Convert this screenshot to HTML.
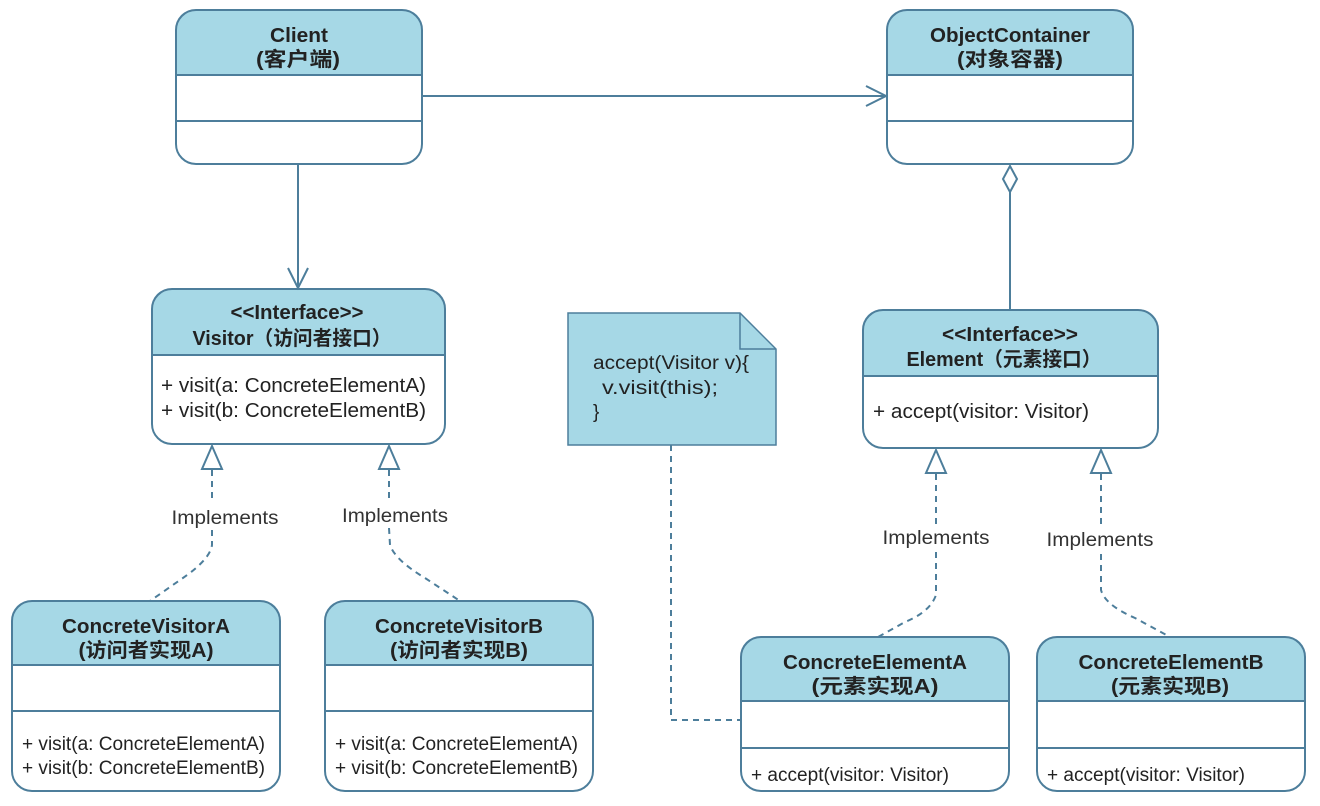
<!DOCTYPE html>
<html><head><meta charset="utf-8"><style>
body{margin:0;background:#fff}
svg text{font-family:"Liberation Sans","Noto Sans CJK SC",sans-serif;fill:#222}
.t{font-weight:bold;font-size:20px;text-anchor:middle}
.m{font-size:19px}
.b{font-size:20px}
.l{font-size:19px;text-anchor:middle;fill:#333}
</style></head><body>
<svg width="1320" height="801" viewBox="0 0 1320 801" xmlns="http://www.w3.org/2000/svg">
<defs><style>.s{stroke:#4d7e9b;stroke-width:2;fill:none}.h{fill:#a6d8e6}.d{stroke:#4d7e9b;stroke-width:2;fill:none;stroke-dasharray:6,5}</style></defs>

<!-- Client -->
<rect x="176" y="10" width="246" height="154" rx="20" fill="#fff"/>
<path class="h" d="M176,75 L176,30 Q176,10 196,10 L402,10 Q422,10 422,30 L422,75 Z"/>
<rect class="s" x="176" y="10" width="246" height="154" rx="20"/>
<line class="s" x1="176" y1="75" x2="422" y2="75"/><line class="s" x1="176" y1="121" x2="422" y2="121"/>
<text class="t" x="299" y="42" textLength="58" lengthAdjust="spacingAndGlyphs">Client</text><text class="t" x="298" y="66" textLength="84" lengthAdjust="spacingAndGlyphs">(客户端)</text>

<!-- ObjectContainer -->
<rect x="887" y="10" width="246" height="154" rx="20" fill="#fff"/>
<path class="h" d="M887,75 L887,30 Q887,10 907,10 L1113,10 Q1133,10 1133,30 L1133,75 Z"/>
<rect class="s" x="887" y="10" width="246" height="154" rx="20"/>
<line class="s" x1="887" y1="75" x2="1133" y2="75"/><line class="s" x1="887" y1="121" x2="1133" y2="121"/>
<text class="t" x="1010" y="42" textLength="160" lengthAdjust="spacingAndGlyphs">ObjectContainer</text><text class="t" x="1010" y="66" textLength="106" lengthAdjust="spacingAndGlyphs">(对象容器)</text>

<!-- Visitor -->
<rect x="152" y="289" width="293" height="155" rx="20" fill="#fff"/>
<path class="h" d="M152,355 L152,309 Q152,289 172,289 L425,289 Q445,289 445,309 L445,355 Z"/>
<rect class="s" x="152" y="289" width="293" height="155" rx="20"/>
<line class="s" x1="152" y1="355" x2="445" y2="355"/>
<text class="t" x="297" y="319" textLength="133" lengthAdjust="spacingAndGlyphs">&lt;&lt;Interface&gt;&gt;</text><text class="t" x="292" y="345" textLength="199" lengthAdjust="spacingAndGlyphs">Visitor（访问者接口）</text>
<text class="b" x="161" y="392" textLength="265" lengthAdjust="spacingAndGlyphs">+ visit(a: ConcreteElementA)</text><text class="b" x="161" y="417" textLength="265" lengthAdjust="spacingAndGlyphs">+ visit(b: ConcreteElementB)</text>

<!-- Note -->
<path d="M568,313 L740,313 L776,349 L776,445 L568,445 Z" fill="#a6d8e6" stroke="#4d7e9b" stroke-width="1.5"/>
<path d="M740,313 L740,349 L776,349" fill="none" stroke="#4d7e9b" stroke-width="1.5"/>
<text class="m" x="593" y="369" textLength="156" lengthAdjust="spacingAndGlyphs">accept(Visitor v){</text><text class="m" x="602" y="394" textLength="116" lengthAdjust="spacingAndGlyphs">v.visit(this);</text><text class="m" x="593" y="418">}</text>

<!-- Element -->
<rect x="863" y="310" width="295" height="138" rx="20" fill="#fff"/>
<path class="h" d="M863,376 L863,330 Q863,310 883,310 L1138,310 Q1158,310 1158,330 L1158,376 Z"/>
<rect class="s" x="863" y="310" width="295" height="138" rx="20"/>
<line class="s" x1="863" y1="376" x2="1158" y2="376"/>
<text class="t" x="1010" y="341" textLength="136" lengthAdjust="spacingAndGlyphs">&lt;&lt;Interface&gt;&gt;</text><text class="t" x="1004" y="366" textLength="195" lengthAdjust="spacingAndGlyphs">Element（元素接口）</text>
<text class="b" x="873" y="418" textLength="216" lengthAdjust="spacingAndGlyphs">+ accept(visitor: Visitor)</text>

<!-- CVA -->
<rect x="12" y="601" width="268" height="190" rx="20" fill="#fff"/>
<path class="h" d="M12,665 L12,621 Q12,601 32,601 L260,601 Q280,601 280,621 L280,665 Z"/>
<rect class="s" x="12" y="601" width="268" height="190" rx="20"/>
<line class="s" x1="12" y1="665" x2="280" y2="665"/><line class="s" x1="12" y1="711" x2="280" y2="711"/>
<text class="t" x="146" y="633" textLength="168" lengthAdjust="spacingAndGlyphs">ConcreteVisitorA</text><text class="t" x="146" y="657" textLength="135" lengthAdjust="spacingAndGlyphs">(访问者实现A)</text>
<text class="m" x="22" y="750" textLength="243" lengthAdjust="spacingAndGlyphs">+ visit(a: ConcreteElementA)</text><text class="m" x="22" y="774" textLength="243" lengthAdjust="spacingAndGlyphs">+ visit(b: ConcreteElementB)</text>

<!-- CVB -->
<rect x="325" y="601" width="268" height="190" rx="20" fill="#fff"/>
<path class="h" d="M325,665 L325,621 Q325,601 345,601 L573,601 Q593,601 593,621 L593,665 Z"/>
<rect class="s" x="325" y="601" width="268" height="190" rx="20"/>
<line class="s" x1="325" y1="665" x2="593" y2="665"/><line class="s" x1="325" y1="711" x2="593" y2="711"/>
<text class="t" x="459" y="633" textLength="168" lengthAdjust="spacingAndGlyphs">ConcreteVisitorB</text><text class="t" x="459" y="657" textLength="138" lengthAdjust="spacingAndGlyphs">(访问者实现B)</text>
<text class="m" x="335" y="750" textLength="243" lengthAdjust="spacingAndGlyphs">+ visit(a: ConcreteElementA)</text><text class="m" x="335" y="774" textLength="243" lengthAdjust="spacingAndGlyphs">+ visit(b: ConcreteElementB)</text>

<!-- CEA -->
<rect x="741" y="637" width="268" height="154" rx="20" fill="#fff"/>
<path class="h" d="M741,701 L741,657 Q741,637 761,637 L989,637 Q1009,637 1009,657 L1009,701 Z"/>
<rect class="s" x="741" y="637" width="268" height="154" rx="20"/>
<line class="s" x1="741" y1="701" x2="1009" y2="701"/><line class="s" x1="741" y1="748" x2="1009" y2="748"/>
<text class="t" x="875" y="669" textLength="184" lengthAdjust="spacingAndGlyphs">ConcreteElementA</text><text class="t" x="875" y="693" textLength="127" lengthAdjust="spacingAndGlyphs">(元素实现A)</text>
<text class="m" x="751" y="781" textLength="198" lengthAdjust="spacingAndGlyphs">+ accept(visitor: Visitor)</text>

<!-- CEB -->
<rect x="1037" y="637" width="268" height="154" rx="20" fill="#fff"/>
<path class="h" d="M1037,701 L1037,657 Q1037,637 1057,637 L1285,637 Q1305,637 1305,657 L1305,701 Z"/>
<rect class="s" x="1037" y="637" width="268" height="154" rx="20"/>
<line class="s" x1="1037" y1="701" x2="1305" y2="701"/><line class="s" x1="1037" y1="748" x2="1305" y2="748"/>
<text class="t" x="1171" y="669" textLength="185" lengthAdjust="spacingAndGlyphs">ConcreteElementB</text><text class="t" x="1170" y="693" textLength="118" lengthAdjust="spacingAndGlyphs">(元素实现B)</text>
<text class="m" x="1047" y="781" textLength="198" lengthAdjust="spacingAndGlyphs">+ accept(visitor: Visitor)</text>

<!-- connectors -->
<line class="s" x1="422" y1="96" x2="886" y2="96"/><path class="s" d="M866,86 L886,96 L866,106"/>
<line class="s" x1="298" y1="164" x2="298" y2="288"/><path class="s" d="M288,268 L298,288 L308,268"/>
<path d="M1010,166 L1017,179 L1010,192 L1003,179 Z" fill="#fff" stroke="#4d7e9b" stroke-width="2"/>
<line class="s" x1="1010" y1="192" x2="1010" y2="310"/>

<path d="M212,446 L222,469 L202,469 Z" fill="#fff" stroke="#4d7e9b" stroke-width="2"/>
<path class="d" d="M212,470 L212,502"/><path class="d" d="M212,530 L212,545 Q210,560 180,580 L150,601"/>
<text class="l" x="225" y="524" textLength="107" lengthAdjust="spacingAndGlyphs">Implements</text>
<path d="M389,446 L399,469 L379,469 Z" fill="#fff" stroke="#4d7e9b" stroke-width="2"/>
<path class="d" d="M389,470 L389,502"/><path class="d" d="M389,528 L390,545 Q395,560 425,578 L460,601"/>
<text class="l" x="395" y="522" textLength="106" lengthAdjust="spacingAndGlyphs">Implements</text>

<path d="M936,450 L946,473 L926,473 Z" fill="#fff" stroke="#4d7e9b" stroke-width="2"/>
<path class="d" d="M936,474 L936,524"/><path class="d" d="M936,552 L936,595 Q930,612 905,622 L878,637"/>
<text class="l" x="936" y="544" textLength="107" lengthAdjust="spacingAndGlyphs">Implements</text>
<path d="M1101,450 L1111,473 L1091,473 Z" fill="#fff" stroke="#4d7e9b" stroke-width="2"/>
<path class="d" d="M1101,474 L1101,526"/><path class="d" d="M1101,554 L1101,590 Q1105,605 1135,618 L1170,637"/>
<text class="l" x="1100" y="546" textLength="107" lengthAdjust="spacingAndGlyphs">Implements</text>

<path class="d" d="M671,445 L671,720 L741,720"/>
</svg>
</body></html>
